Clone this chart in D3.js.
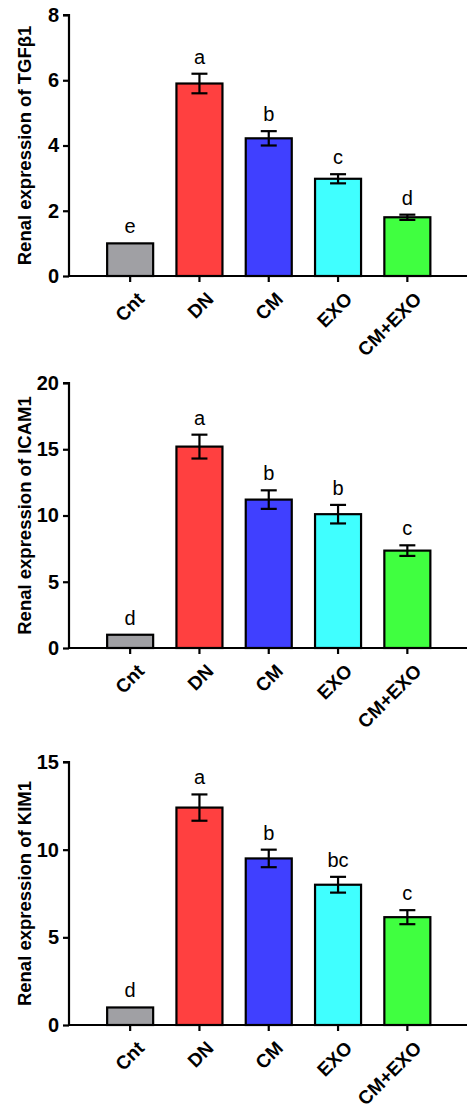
<!DOCTYPE html>
<html><head><meta charset="utf-8">
<script src="https://cdn.jsdelivr.net/npm/d3@7"></script>
<style>body{margin:0;background:#fff}svg{display:block}text{font-family:"Liberation Sans",Arial,sans-serif}</style>
</head><body>
<svg id="c" width="474" height="1115"></svg>
<script>
const groups = ['Cnt', 'DN', 'CM', 'EXO', 'CM+EXO'];
const colors = ['#a0a0a4', '#ff4040', '#4040ff', '#40ffff', '#40ff40'];

const tgfMean = [1.0, 5.9, 4.22, 2.98, 1.8];
const tgfErr = [0, 0.3, 0.22, 0.14, 0.08];
const tgfLetters = ['e', 'a', 'b', 'c', 'd'];

const icamMean = [1.0, 15.2, 11.2, 10.1, 7.35];
const icamErr = [0, 0.9, 0.7, 0.7, 0.4];
const icamLetters = ['d', 'a', 'b', 'b', 'c'];

const kimMean = [1.0, 12.4, 9.5, 8.0, 6.15];
const kimErr = [0, 0.75, 0.5, 0.45, 0.4];
const kimLetters = ['d', 'a', 'b', 'bc', 'c'];

const panels = [
  {title: 'Renal expression of TGF\u03b21', mean: tgfMean, err: tgfErr, letters: tgfLetters, max: 8, ticks: [0, 2, 4, 6, 8], top: 15, bottom: 276},
  {title: 'Renal expression of ICAM1', mean: icamMean, err: icamErr, letters: icamLetters, max: 20, ticks: [0, 5, 10, 15, 20], top: 383, bottom: 648},
  {title: 'Renal expression of KIM1', mean: kimMean, err: kimErr, letters: kimLetters, max: 15, ticks: [0, 5, 10, 15], top: 762, bottom: 1025}
];

const svg = d3.select('#c');
const axisX = 69;
const x = d3.scaleBand().domain(groups).range([95.5, 442]).paddingInner(0.336).paddingOuter(0.168);

panels.forEach(p => {
  const g = svg.append('g');
  const y = d3.scaleLinear().domain([0, p.max]).range([p.bottom, p.top]);

  // bars
  g.selectAll('rect').data(groups).join('rect')
    .attr('x', d => x(d)).attr('width', x.bandwidth())
    .attr('y', (d, i) => y(p.mean[i])).attr('height', (d, i) => p.bottom - y(p.mean[i]))
    .attr('fill', (d, i) => colors[i]).attr('stroke', '#000').attr('stroke-width', 2.2);

  // error bars
  groups.forEach((d, i) => {
    if (!p.err[i]) return;
    const cx = x(d) + x.bandwidth() / 2;
    const lo = y(p.mean[i] - p.err[i]), hi = y(p.mean[i] + p.err[i]);
    g.append('line').attr('x1', cx).attr('x2', cx).attr('y1', lo).attr('y2', hi).attr('stroke', '#000').attr('stroke-width', 2.2);
    [lo, hi].forEach(v => g.append('line').attr('x1', cx - 8).attr('x2', cx + 8).attr('y1', v).attr('y2', v).attr('stroke', '#000').attr('stroke-width', 2.2));
  });

  // letters
  g.selectAll('text.let').data(groups).join('text').attr('class', 'let')
    .attr('x', d => x(d) + x.bandwidth() / 2)
    .attr('y', (d, i) => y(p.mean[i] + p.err[i]) - 10)
    .attr('text-anchor', 'middle').attr('font-size', 20)
    .text((d, i) => p.letters[i]);

  // y axis
  const ya = g.append('g').attr('transform', `translate(${axisX},0)`)
    .call(d3.axisLeft(y).tickValues(p.ticks).tickSize(6).tickPadding(4));
  ya.select('.domain').attr('stroke-width', 2.2).attr('d', `M-6,${p.top}H0V${p.bottom}`);
  ya.selectAll('line').attr('stroke-width', 2.2);
  ya.selectAll('text').attr('font-size', 20).attr('font-weight', 'bold').attr('font-family', 'Liberation Sans, Arial');

  // x axis
  const xa = g.append('g').attr('transform', `translate(0,${p.bottom})`)
    .call(d3.axisBottom(x).tickSize(6).tickSizeOuter(0));
  xa.select('.domain').attr('stroke-width', 2.2).attr('d', `M${axisX},0H467`);
  xa.selectAll('line').attr('stroke-width', 2.2);
  xa.selectAll('text').attr('font-size', 19).attr('font-weight', 'bold').attr('font-family', 'Liberation Sans, Arial')
    .attr('text-anchor', 'end').attr('dy', 0)
    .attr('transform', 'translate(9,18) rotate(-45)');

  // y title
  g.append('text')
    .attr('transform', `translate(31,${(p.top + p.bottom) / 2}) rotate(-90)`)
    .attr('text-anchor', 'middle').attr('font-size', 18.5).attr('font-weight', 'bold')
    .text(p.title);
});
</script>
</body></html>
